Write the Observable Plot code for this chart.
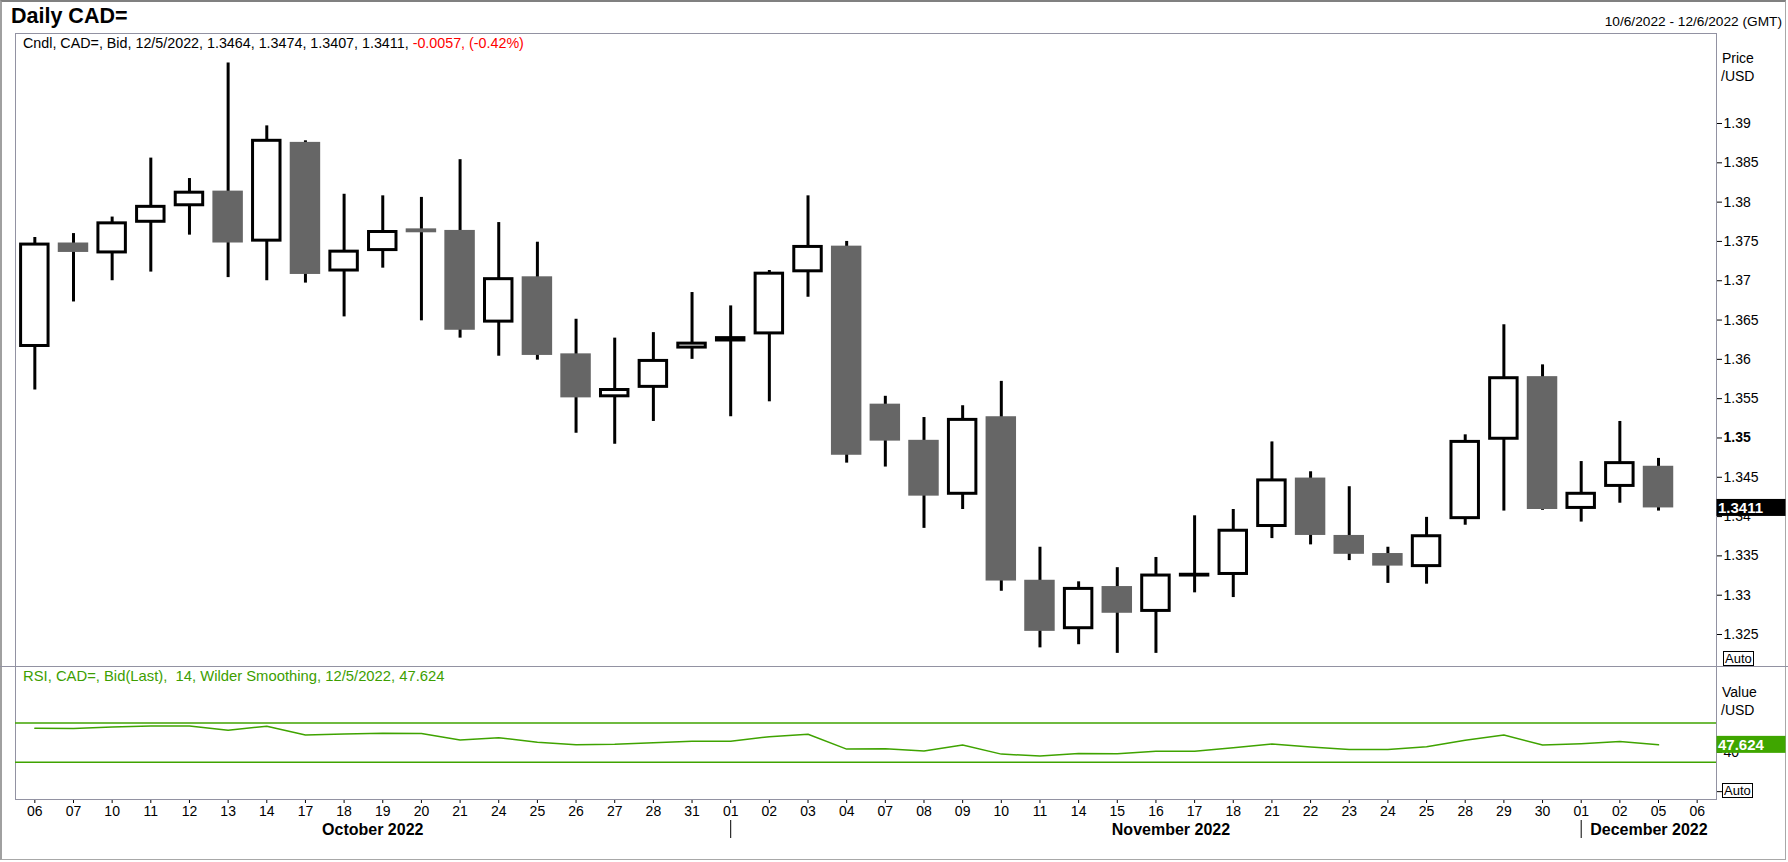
<!DOCTYPE html>
<html><head><meta charset="utf-8">
<script src="https://cdn.jsdelivr.net/npm/d3@7"></script>
<script src="https://cdn.jsdelivr.net/npm/@observablehq/plot@0.6"></script>
<style>
html,body{margin:0;padding:0;background:#fff;}
body{width:1788px;height:862px;position:relative;overflow:hidden;font-family:"Liberation Sans",Arial,sans-serif;color:#000;}
.abs{position:absolute;white-space:nowrap;line-height:1;}
#border{position:absolute;left:0;top:0;width:1783px;height:857px;border:1px solid #a8a8a8;border-top:2px solid #808080;border-left:2px solid #a0a0a0;}
.auto{position:absolute;border:1px solid #000;font-size:13px;line-height:13px;padding:0 1px;background:#fff;}
</style></head><body>
<div id="border"></div>
<div id="price" class="abs" style="left:0;top:0"></div>
<div id="rsi" class="abs" style="left:0;top:666px"></div>
<div class="abs" style="left:0;top:666px;width:1788px;height:1px;background:#9292a2"></div>
<div class="abs" style="left:11px;top:6px;font-size:21.5px;font-weight:bold">Daily CAD=</div>
<div class="abs" style="right:6px;top:15px;font-size:13.7px">10/6/2022 - 12/6/2022 (GMT)</div>
<div class="abs" style="left:23px;top:36px;font-size:14.3px">Cndl, CAD=, Bid, 12/5/2022, 1.3464, 1.3474, 1.3407, 1.3411, <span style="color:#ff0000">-0.0057, (-0.42%)</span></div>
<div class="abs" style="left:1722px;top:51px;font-size:14px">Price</div>
<div class="abs" style="left:1721px;top:69px;font-size:14px">/USD</div>
<div class="auto" style="left:1723px;top:651px">Auto</div>
<div class="abs" style="left:23px;top:669px;font-size:14.8px;color:#3d9e00">RSI, CAD=, Bid(Last),&nbsp; 14, Wilder Smoothing, 12/5/2022, 47.624</div>
<div class="abs" style="left:1722px;top:685px;font-size:14px">Value</div>
<div class="abs" style="left:1721px;top:703px;font-size:14px">/USD</div>
<div class="auto" style="left:1722px;top:783px">Auto</div>
<script>
// ---- data ----
const dates = [
  "2022-10-06","2022-10-07","2022-10-10","2022-10-11","2022-10-12","2022-10-13","2022-10-14",
  "2022-10-17","2022-10-18","2022-10-19","2022-10-20","2022-10-21","2022-10-24","2022-10-25",
  "2022-10-26","2022-10-27","2022-10-28","2022-10-31",
  "2022-11-01","2022-11-02","2022-11-03","2022-11-04","2022-11-07","2022-11-08","2022-11-09",
  "2022-11-10","2022-11-11","2022-11-14","2022-11-15","2022-11-16","2022-11-17","2022-11-18",
  "2022-11-21","2022-11-22","2022-11-23","2022-11-24","2022-11-25","2022-11-28","2022-11-29","2022-11-30",
  "2022-12-01","2022-12-02","2022-12-05","2022-12-06"
];
const opens = [1.3617,1.3748,1.3736,1.3775,1.3796,1.3814,1.3751,1.3876,1.3713,1.3739,1.3766,1.3764,1.3648,1.3705,1.3607,1.3553,1.3565,1.3615,
  1.3624,1.3633,1.3712,1.3744,1.3543,1.3497,1.3429,1.3527,1.3319,1.3258,1.3311,1.3280,1.3325,1.3327,1.3388,1.3449,1.3376,1.3353,1.3337,1.3398,1.3499,1.3578,
  1.3411,1.3439,1.3464];
const highs = [1.3755,1.3760,1.3781,1.3856,1.3830,1.3977,1.3897,1.3878,1.3810,1.3808,1.3806,1.3854,1.3774,1.3749,1.3651,1.3627,1.3634,1.3685,
  1.3668,1.3713,1.3808,1.3750,1.3553,1.3526,1.3541,1.3572,1.3361,1.3317,1.3335,1.3348,1.3401,1.3409,1.3495,1.3457,1.3438,1.3361,1.3399,1.3504,1.3644,1.3593,
  1.3470,1.3521,1.3474];
const lows = [1.3561,1.3673,1.3700,1.3711,1.3758,1.3704,1.3700,1.3697,1.3654,1.3716,1.3649,1.3627,1.3604,1.3599,1.3506,1.3492,1.3521,1.3600,
  1.3527,1.3546,1.3679,1.3468,1.3463,1.3385,1.3409,1.3305,1.3233,1.3237,1.3226,1.3226,1.3303,1.3297,1.3372,1.3364,1.3344,1.3315,1.3314,1.3389,1.3407,1.3408,
  1.3393,1.3417,1.3407];
const closes = [1.3746,1.3736,1.3773,1.3794,1.3812,1.3748,1.3878,1.3708,1.3737,1.3762,1.3761,1.3637,1.3702,1.3605,1.3551,1.3561,1.3598,1.3620,
  1.3627,1.3709,1.3743,1.3478,1.3496,1.3426,1.3523,1.3318,1.3254,1.3308,1.3277,1.3325,1.3326,1.3382,1.3446,1.3376,1.3352,1.3337,1.3375,1.3495,1.3576,1.3409,
  1.3429,1.3468,1.3411];
const rsiValues = [64.6,64.3,65.9,66.7,66.9,62.5,66.6,57.7,58.7,59.4,59.2,52.6,54.9,50.2,47.7,48.2,49.8,51.2,
  51.3,55.9,58.4,43.3,43.6,41.3,47.4,38.2,36.2,38.9,38.5,41.0,41.0,44.7,48.5,45.4,43.0,42.8,45.7,52.3,57.7,47.4,
  48.8,51.0,47.624];
const priceTicks = [1.325,1.33,1.335,1.34,1.345,1.35,1.355,1.36,1.365,1.37,1.375,1.38,1.385,1.39];
const rsiLevels = [30,70];
const rsiTicks = [0,40];
const monthLabels = ["October 2022","November 2022","December 2022"];
const monthAnchors = ["2022-10-19","2022-11-16","2022-12-01"];
const monthStarts = ["2022-11-01","2022-12-01"];

// ---- build ----
const candles = opens.map((o,i)=>({date:dates[i], open:o, high:highs[i], low:lows[i], close:closes[i]}));
const rsiData = rsiValues.map((v,i)=>({date:dates[i], rsi:v}));
const frameColor = "#9292a2";
const green = "#3fa300";
const font = "'Liberation Sans', Arial, sans-serif";

const pricePlot = Plot.plot({
  width:1788, height:666, marginLeft:15, marginRight:72, marginTop:33, marginBottom:0,
  style:{fontFamily:font, fontSize:"14px", color:"#000", background:"transparent", overflow:"visible"},
  x:{type:"band", domain:dates, padding:0, round:false, axis:null},
  y:{domain:[1.32093,1.40145], axis:"right", ticks:priceTicks, tickFormat:d=>String(+d.toFixed(3)), tickSize:5, tickPadding:2, label:null},
  marks:[
    Plot.frame({stroke:frameColor}),
    Plot.ruleX(candles, {x:"date", y1:"low", y2:"high", stroke:"#000", strokeWidth:3}),
    Plot.barY(candles.filter(d=>d.close<d.open), {x:"date", y1:"open", y2:"close", fill:"#666666", insetLeft:4.1, insetRight:4.1}),
    Plot.barY(candles.filter(d=>d.close>=d.open), {x:"date", y1:"open", y2:"close", fill:"#fff", stroke:"#000", strokeWidth:3, insetLeft:5.6, insetRight:5.6})
  ]
});
document.getElementById("price").appendChild(pricePlot);

const rsiPlot = Plot.plot({
  width:1788, height:196, marginLeft:15, marginRight:72, marginTop:0, marginBottom:63,
  style:{fontFamily:font, fontSize:"14px", color:"#000", background:"transparent", overflow:"visible"},
  x:{type:"band", domain:dates, padding:0, round:false, tickSize:4, tickPadding:3, tickFormat:d=>d.slice(8), label:null},
  y:{domain:[-8,127.4], axis:"right", ticks:rsiTicks, tickSize:5, tickPadding:2, tickFormat:d=>d===0?"":String(d), label:null},
  marks:[
    Plot.frame({stroke:frameColor}),
    Plot.ruleY(rsiLevels, {stroke:green, strokeWidth:1.5}),
    Plot.line(rsiData, {x:"date", y:"rsi", stroke:green, strokeWidth:1.5}),
    Plot.ruleX(monthStarts, {stroke:"#000", strokeWidth:1, insetTop:154, insetBottom:-39}),
    Plot.text([0], {x:()=>monthAnchors[0], text:()=>monthLabels[0], frameAnchor:"bottom", lineAnchor:"middle", dy:30, dx:-10, fontWeight:"bold", fontSize:16}),
    Plot.text([1], {x:()=>monthAnchors[1], text:()=>monthLabels[1], frameAnchor:"bottom", lineAnchor:"middle", dy:30, dx:15, fontWeight:"bold", fontSize:16}),
    Plot.text([2], {x:()=>monthAnchors[2], text:()=>monthLabels[2], frameAnchor:"bottom", lineAnchor:"middle", dy:30, dx:9, textAnchor:"start", fontWeight:"bold", fontSize:16})
  ]
});
document.getElementById("rsi").appendChild(rsiPlot);

// bold 1.35 tick
d3.select(pricePlot).selectAll("text").filter(function(){return this.textContent==="1.35";}).attr("font-weight","bold");

// last value boxes using the plots' scales
function addBox(svg, scaleObj, value, label, fill){
  const ys = d3.scaleLinear(scaleObj.domain, scaleObj.range);
  const y = ys(value);
  const g = d3.select(svg).append("g");
  g.append("rect").attr("x",1716.5).attr("y",y-8.5).attr("width",69).attr("height",17).attr("fill",fill);
  g.append("text").attr("x",1718).attr("y",y).attr("dy","0.36em").attr("fill","#fff").attr("text-anchor","start")
    .attr("font-weight","bold").attr("font-size",15).attr("font-family",font).text(label);
}
addBox(pricePlot, pricePlot.scale("y"), closes[closes.length-1], closes[closes.length-1].toFixed(4), "#000");
addBox(rsiPlot, rsiPlot.scale("y"), rsiValues[rsiValues.length-1], rsiValues[rsiValues.length-1].toFixed(3), "#3fa600");
</script>
</body></html>
